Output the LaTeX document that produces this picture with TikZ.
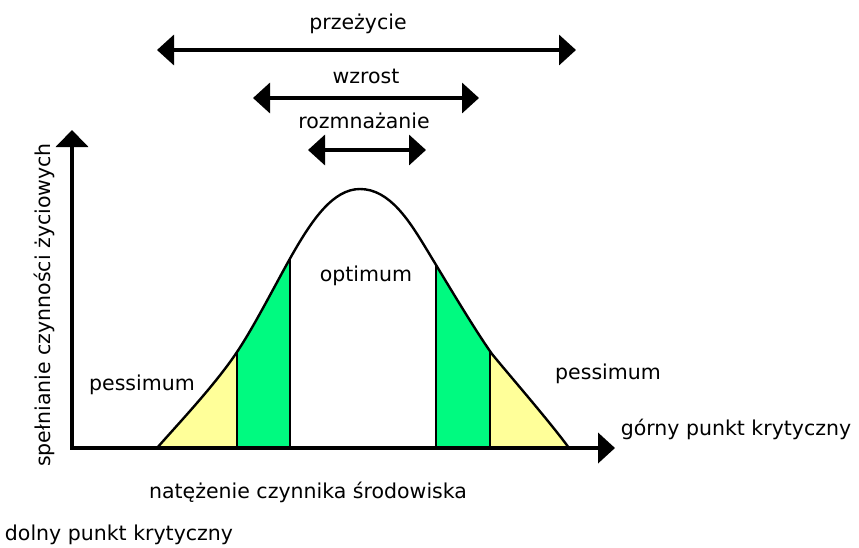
\documentclass[tikz,border=0pt]{standalone}
\usepackage{fontspec}
\setmainfont{DejaVu Sans}
\usetikzlibrary{arrows.meta}
\definecolor{paleyellow}{RGB}{255,255,153}
\definecolor{springgreen}{RGB}{0,250,128}
\begin{document}
\begin{tikzpicture}[x=1pt,y=-1pt,
  lbl/.style={font=\fontsize{20.5}{24}\selectfont, inner sep=0pt, anchor=base},
  axisline/.style={line width=4pt, {Triangle[width=32pt,length=17pt]}-{Triangle[width=30pt,length=17pt]}},
  rangearrow/.style={line width=3.5pt, {Triangle[width=30pt,length=17pt]}-{Triangle[width=30pt,length=17pt]}},
  curveline/.style={line width=2.4pt, line join=round},
  divline/.style={line width=2pt}]
\useasboundingbox (0,0) rectangle (859,547);
\def\bell{(157,448) .. controls (178,424) and (215,385) .. (237,352)
  .. controls (255,325) and (275,285) .. (292,255)
  .. controls (312,220) and (333,189) .. (360,189)
  .. controls (390,189) and (410,222) .. (427,250)
  .. controls (450,288) and (475,330) .. (492,354)
  .. controls (510,376) and (550,422) .. (569,448)}
% fills, clipped to the area under the curve
\begin{scope}
  \clip \bell -- cycle;
  \fill[paleyellow] (150,448) rectangle (237,180);
  \fill[springgreen] (237,448) rectangle (290,180);
  \fill[springgreen] (436,448) rectangle (490,180);
  \fill[paleyellow] (490,448) rectangle (575,180);
  \draw[divline] (237,448) -- (237,180);
  \draw[divline] (290,448) -- (290,180);
  \draw[divline] (436,448) -- (436,180);
  \draw[divline] (490,448) -- (490,180);
\end{scope}
% curve
\draw[curveline] \bell;
% axes
\coordinate (ytip) at (72,130);
\coordinate (origin) at (72,448);
\coordinate (xtip) at (615,448);
\draw[axisline, line join=miter] (ytip) -- (origin) -- (xtip);
% range arrows
\coordinate (p1) at (157,50); \coordinate (p2) at (576,50);
\coordinate (w1) at (253,98); \coordinate (w2) at (479,98);
\coordinate (r1) at (308,150); \coordinate (r2) at (426,150);
\draw[rangearrow] (p1) -- (p2);
\draw[rangearrow] (w1) -- (w2);
\draw[rangearrow] (r1) -- (r2);
% labels
\node[lbl] (przezycie) at (358,29) {przeżycie};
\node[lbl] (wzrost) at (366,83) {wzrost};
\node[lbl] (rozmnazanie) at (364,128) {rozmnażanie};
\node[lbl] (optimum) at (366,281) {optimum};
\node[lbl] (pessL) at (142,390) {pessimum};
\node[lbl] (pessR) at (608,379) {pessimum};
\node[lbl] (gorny) at (736,435) {górny punkt krytyczny};
\node[lbl] (natezenie) at (308,498) {natężenie czynnika środowiska};
\node[lbl] (dolny) at (119,540) {dolny punkt krytyczny};
\node[lbl, rotate=90] (ylabel) at (50,305) {spełnianie czynności życiowych};
\end{tikzpicture}
\end{document}
